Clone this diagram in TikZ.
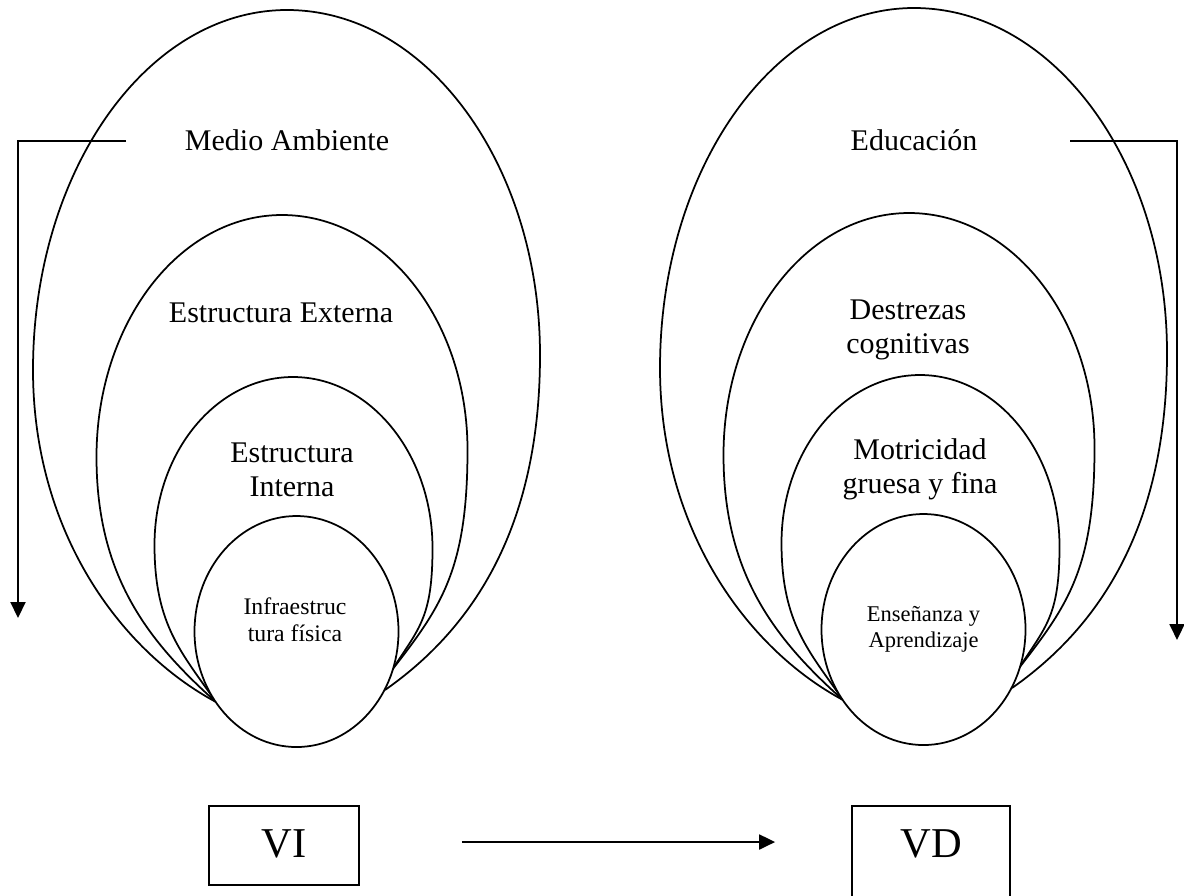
\documentclass[tikz,border=0pt]{standalone}
\usepackage{fontspec}
\setmainfont{Liberation Serif}
\usetikzlibrary{arrows.meta,shapes.geometric}

\begin{document}
\begin{tikzpicture}[x=0.4pt, y=-0.4pt,
        outline/.style={line width=0.7pt},
        core/.style={ellipse, draw, line width=0.7pt, fill=white, inner sep=0pt,
            minimum width=81.6pt, minimum height=92.4pt},
        lbl/.style={align=center, font=\fontsize{12}{13.6}\selectfont},
        smalllbl/.style={align=center, font=\fontsize{9.5}{10.7}\selectfont},
        varbox/.style={draw, line width=0.7pt, inner xsep=0pt, inner ysep=0pt, anchor=base,
            text height=20.4pt, font=\fontsize{17}{20}\selectfont},
        flowarrow/.style={line width=0.8pt, -{Triangle[length=6.4pt, width=6pt]}}]
    \useasboundingbox (0,0) rectangle (1184,895);
    \clip (0,0) rectangle (1184,895);

    % left group
    \draw[outline] (216,702) .. controls (119,650) and (33,530) .. (33,370)
        .. controls (33,171) and (147,10) .. (287,10)
        .. controls (427,10) and (540,165) .. (540,355)
        .. controls (540,525) and (475,627) .. (385,690);
    \draw[outline] (216,702) .. controls (149,642) and (96.5,577) .. (96.5,457)
        .. controls (96.5,323) and (179.5,215) .. (282,215)
        .. controls (384.5,215) and (467.5,320) .. (467.5,450)
        .. controls (467.5,570) and (441,607) .. (392,670);
    \draw[outline] (216,702) .. controls (182,653) and (154.5,625) .. (154.5,545)
        .. controls (154.5,452) and (216.5,377) .. (293,377)
        .. controls (370,377) and (432.5,454) .. (432.5,548)
        .. controls (432.5,618) and (419,628) .. (392,670);
    \node[core] (infra) at (296.5,631.5) {};
    \node[smalllbl] (infratext) at (295,620) {Infraestruc\\tura física};
    \node[lbl] (medio) at (287,140) {Medio Ambiente};
    \node[lbl] (externa) at (281,313) {Estructura Externa};
    \node[lbl] (interna) at (292,470) {Estructura\\Interna};

    % right group
    \begin{scope}[shift={(627,-2)}]
        \draw[outline] (216,702) .. controls (119,650) and (33,530) .. (33,370)
            .. controls (33,171) and (147,10) .. (287,10)
            .. controls (427,10) and (540,165) .. (540,355)
            .. controls (540,525) and (475,627) .. (385,690);
        \draw[outline] (216,702) .. controls (149,642) and (96.5,577) .. (96.5,457)
            .. controls (96.5,323) and (179.5,215) .. (282,215)
            .. controls (384.5,215) and (467.5,320) .. (467.5,450)
            .. controls (467.5,570) and (441,607) .. (392,670);
        \draw[outline] (216,702) .. controls (182,653) and (154.5,625) .. (154.5,545)
            .. controls (154.5,452) and (216.5,377) .. (293,377)
            .. controls (370,377) and (432.5,454) .. (432.5,548)
            .. controls (432.5,618) and (419,628) .. (392,670);
        \node[core, font=\fontsize{9}{10.4}\selectfont, align=center] (ensenanza)
            at (296.5,631.5) {Enseñanza y\\Aprendizaje};
        \node[lbl] (educacion) at (287,142) {Educación};
        \node[lbl] (destrezas) at (281,332) {Destrezas\\cognitivas};
        \node[lbl] (motricidad) at (293,471) {Motricidad\\gruesa y fina};
    \end{scope}

    % side arrows
    \coordinate (mfrom) at (126,141);
    \coordinate (mto) at (18,618);
    \draw[flowarrow] (mfrom) -| (mto);
    \coordinate (efrom) at (1070,141);
    \coordinate (eto) at (1177,640);
    \draw[flowarrow] (efrom) -| (eto);

    % variables
    \node[varbox, minimum width=60pt, text depth=11.2pt] (vi) at (284,857) {VI};
    \node[varbox, minimum width=63.2pt, text depth=19.6pt] (vd) at (931,857) {VD};
    \draw[flowarrow, shorten <=40.8pt, shorten >=30.4pt]
        ([yshift=6pt]vi.base east) -- ([yshift=6pt]vd.base west);
\end{tikzpicture}
\end{document}
